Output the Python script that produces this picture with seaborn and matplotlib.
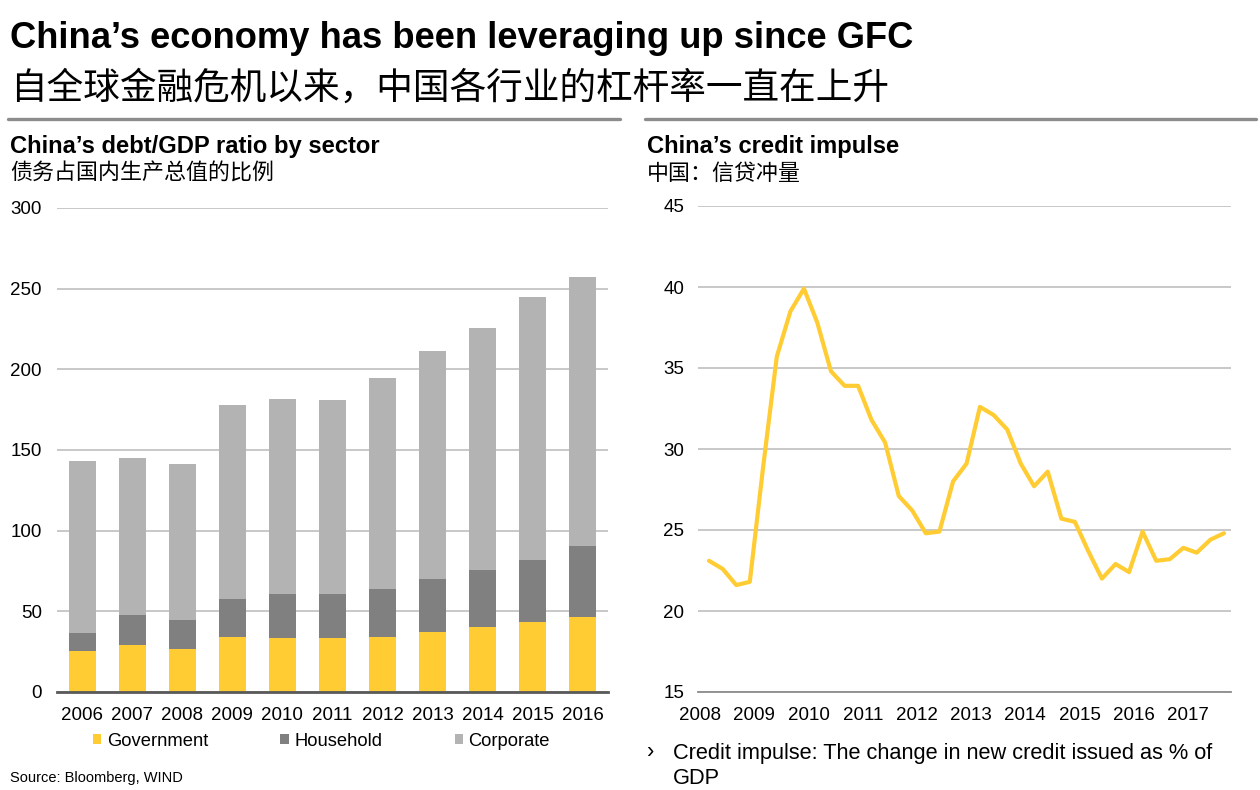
import numpy as np
import pandas as pd
import matplotlib
matplotlib.use("Agg")
import matplotlib.pyplot as plt
import matplotlib.dates as mdates
from matplotlib.patches import Patch
from matplotlib.lines import Line2D
import seaborn as sns

# ---------------- data ----------------
years = ["2006", "2007", "2008", "2009", "2010", "2011", "2012", "2013", "2014", "2015", "2016"]
government = [25.4, 29.2, 26.9, 34.4, 33.5, 33.3, 34.1, 37.1, 40.2, 43.3, 46.4]
household = [11.0, 18.7, 17.8, 23.4, 27.4, 27.6, 29.9, 33.2, 35.7, 38.7, 44.3]
corporate = [106.6, 97.0, 96.5, 120.3, 120.9, 120.3, 130.8, 140.9, 150.0, 162.9, 166.6]
sector_labels = ["Government", "Household", "Corporate"]

impulse_start = "2008-03-01"  # first quarterly observation
credit_impulse = [23.1, 22.6, 21.6, 21.8, 28.9, 35.7, 38.5, 39.9, 37.8, 34.8,
                  33.9, 33.9, 31.8, 30.4, 27.1, 26.2, 24.8, 24.9, 28.0, 29.1,
                  32.6, 32.1, 31.2, 29.1, 27.7, 28.6, 25.7, 25.5, 23.7, 22.0,
                  22.9, 22.4, 24.9, 23.1, 23.2, 23.9, 23.6, 24.4, 24.8]
impulse_years = list(range(2008, 2018))

title_en = "China’s economy has been leveraging up since GFC"
title_zh = "自全球金融危机以来，中国各行业的杠杆率一直在上升"
left_title_en = "China’s debt/GDP ratio by sector"
left_title_zh = "债务占国内生产总值的比例"
right_title_en = "China’s credit impulse"
right_title_zh = "中国：信贷冲量"
source_text = "Source: Bloomberg, WIND"
note_text = "Credit impulse: The change in new credit issued as % of\nGDP"

# ---------------- style ----------------
YELLOW = "#FFCC33"
DARK = "#808080"
LIGHT = "#B3B3B3"
GRID = "#C4C4C4"

sns.set_theme(style="white")
plt.rcParams["font.family"] = ["Liberation Sans", "Noto Sans CJK SC", "DejaVu Sans"]
plt.rcParams["text.color"] = "black"
plt.rcParams["axes.labelcolor"] = "black"
ZH = ["Noto Sans CJK SC", "Liberation Sans"]

W, H = 1260, 790
fig = plt.figure(figsize=(W / 100, H / 100), dpi=100)


def fx(x):
    return x / W


def fy(y):
    return 1 - y / H


# ---------------- titles ----------------
fig.text(fx(10), fy(38), title_en, fontsize=26.2, weight="bold", va="center", ha="left")
fig.text(fx(10), fy(88), title_zh, fontsize=26.4, va="center", ha="left", family=ZH)
fig.add_artist(Line2D([fx(8), fx(620)], [fy(119), fy(119)], color="#8C8C8C", lw=2.4))
fig.add_artist(Line2D([fx(645), fx(1256)], [fy(119), fy(119)], color="#8C8C8C", lw=2.4))

fig.text(fx(10), fy(147), left_title_en, fontsize=17.1, weight="bold", va="center", ha="left")
fig.text(fx(10), fy(174), left_title_zh, fontsize=15.8, va="center", ha="left", family=ZH)
fig.text(fx(647), fy(147), right_title_en, fontsize=17.1, weight="bold", va="center", ha="left")
fig.text(fx(647), fy(174), right_title_zh, fontsize=15.8, va="center", ha="left", family=ZH)

# ---------------- left: stacked bars ----------------
axL = fig.add_axes([fx(57), fy(692), fx(608) - fx(57), fy(208) - fy(692)])
df = pd.DataFrame({"year": years, "Government": government,
                   "Household": household, "Corporate": corporate})
df["gov_hh"] = df["Government"] + df["Household"]
df["total"] = df["gov_hh"] + df["Corporate"]

sns.barplot(data=df, x="year", y="total", color=LIGHT, saturation=1, width=0.54,
            linewidth=0, ax=axL, zorder=2)
sns.barplot(data=df, x="year", y="gov_hh", color=DARK, saturation=1, width=0.54,
            linewidth=0, ax=axL, zorder=3)
sns.barplot(data=df, x="year", y="Government", color=YELLOW, saturation=1, width=0.54,
            linewidth=0, ax=axL, zorder=4)

axL.set_xlim(-0.5, len(years) - 0.5)
axL.set_ylim(0, 300)
axL.set_yticks(range(0, 301, 50))
axL.yaxis.grid(True, color=GRID, lw=1.3, zorder=0)
axL.set_axisbelow(True)
for s in ["top", "right", "left"]:
    axL.spines[s].set_visible(False)
axL.spines["bottom"].set_color("#595959")
axL.spines["bottom"].set_linewidth(2)
axL.spines["bottom"].set_zorder(5)
axL.set_xlabel("")
axL.set_ylabel("")
axL.tick_params(axis="both", length=0, labelsize=13.5, colors="black")
axL.tick_params(axis="y", pad=11)
axL.tick_params(axis="x", pad=11)

handles = [Patch(facecolor=c, edgecolor="none") for c in (YELLOW, DARK, LIGHT)]
fig.legend(handles, sector_labels, loc="center left", bbox_to_anchor=(fx(93), fy(741)),
           ncol=3, frameon=False, fontsize=13.2, handlelength=0.45, handleheight=0.45,
           handletextpad=0.3, columnspacing=3.95, borderpad=0, borderaxespad=0)

fig.text(fx(10), fy(778), source_text, fontsize=10.5, va="center", ha="left")

# ---------------- right: credit impulse line ----------------
axR = fig.add_axes([fx(698), fy(692), fx(1231) - fx(698), fy(206) - fy(692)])
dates = pd.date_range(impulse_start, periods=len(credit_impulse), freq="3MS")
dfl = pd.DataFrame({"date": dates, "impulse": credit_impulse})
sns.lineplot(data=dfl, x="date", y="impulse", color=YELLOW, lw=3, ax=axR, zorder=3)

axR.set_ylim(15, 45)
axR.set_yticks(range(15, 46, 5))
axR.set_xlim(pd.Timestamp("2007-12-18"), pd.Timestamp("2017-10-18"))
axR.set_xticks([pd.Timestamp(f"{y}-01-01") for y in impulse_years])
axR.xaxis.set_major_formatter(mdates.DateFormatter("%Y"))
axR.yaxis.grid(True, color=GRID, lw=1.3, zorder=0)
axR.set_axisbelow(True)
for s in ["top", "right", "left"]:
    axR.spines[s].set_visible(False)
axR.spines["bottom"].set_color("#8C8C8C")
axR.spines["bottom"].set_linewidth(1.3)
axR.set_xlabel("")
axR.set_ylabel("")
axR.tick_params(axis="both", length=0, labelsize=13.5, colors="black")
axR.tick_params(axis="y", pad=10)
axR.tick_params(axis="x", pad=11)

fig.text(fx(647), fy(753), "›", fontsize=15.7, va="center", ha="left")
fig.text(fx(673), fy(766), note_text, fontsize=15.7, va="center", ha="left", linespacing=1.22)

fig.savefig("out.png", dpi=100)
